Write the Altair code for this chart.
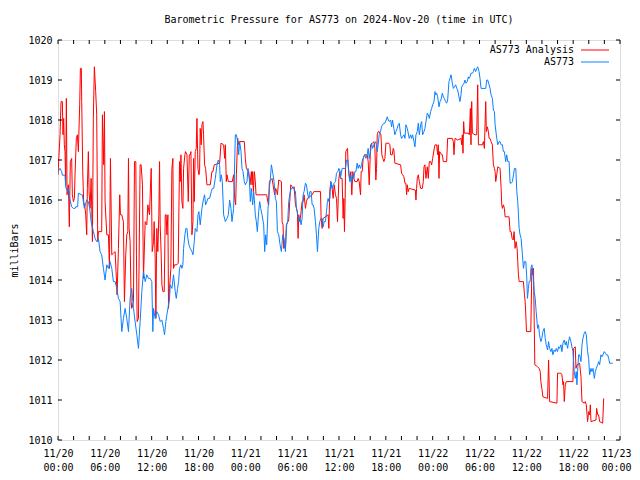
import json
import altair as alt
import pandas as pd

FONT = "DejaVu Sans Mono"
TITLE = "Barometric Pressure for AS773 on 2024-Nov-20 (time in UTC)"
Y_TITLE = "milliBars"
SERIES = ["AS773 Analysis", "AS773"]
COLORS = ["#ff0000", "#0a80ff"]

X_MAJOR_HOURS = [0, 6, 12, 18, 24, 30, 36, 42, 48, 54, 60, 66, 72]
X_TICK_DAYS = ["11/20", "11/20", "11/20", "11/20", "11/21", "11/21", "11/21",
               "11/21", "11/22", "11/22", "11/22", "11/22", "11/23"]
X_TICK_TIMES = ["00:00", "06:00", "12:00", "18:00", "00:00", "06:00", "12:00",
                "18:00", "00:00", "06:00", "12:00", "18:00", "00:00"]
X_MINOR_HOURS = [0, 2, 4, 6, 8, 10, 12, 14, 16, 18, 20, 22, 24, 26, 28, 30, 32, 34, 36,
                 38, 40, 42, 44, 46, 48, 50, 52, 54, 56, 58, 60, 62, 64, 66, 68, 70, 72]
Y_TICKS = [1010, 1011, 1012, 1013, 1014, 1015, 1016, 1017, 1018, 1019, 1020]

# "AS773 Analysis" (red): hours after 2024-11-20 00:00 UTC, and millibars
RED_HOURS = [
    0.00, 0.26, 0.39, 0.56, 0.64, 0.73, 0.81, 0.90, 0.98, 1.07, 1.16, 1.33, 1.45, 1.58, 1.75, 1.84, 1.97, 2.10, 2.18, 2.35, 2.48, 2.61, 2.78, 2.87, 2.99, 3.04, 3.17, 3.29, 3.47, 3.55, 3.68, 3.76, 3.89, 3.98, 4.11, 4.24, 4.41, 4.53, 4.66, 4.83, 4.96, 5.09, 5.18, 5.60, 5.69, 5.86, 5.95, 6.03, 6.25, 6.46, 6.59, 6.72, 6.89, 7.10, 7.32, 7.44, 7.57, 7.74, 7.91, 8.00, 8.17, 8.38, 8.51, 8.68, 8.81, 8.94, 9.03, 9.11, 9.24, 9.37, 9.45, 9.67, 9.80, 9.97, 10.05, 10.14, 10.31, 10.52, 10.65, 10.82, 10.95, 11.17, 11.38, 11.51, 11.72,
    11.81, 11.94, 12.07, 12.24, 12.32, 12.45, 12.54, 12.66, 12.79, 12.92, 13.01, 13.09, 13.22, 13.31, 13.44, 13.61, 13.74, 13.86, 13.95, 14.08, 14.16, 14.29, 14.46, 14.59, 14.72, 14.80, 14.93, 15.23, 15.40, 15.57, 15.66, 15.75, 15.87, 16.00, 16.09, 16.26, 16.34, 16.52, 16.69, 16.82, 16.94, 17.03, 17.16, 17.29, 17.37, 17.46, 17.58, 17.71, 17.80, 17.93, 18.05, 18.14, 18.22, 18.35, 18.44, 18.57, 18.65, 18.78, 18.91, 19.08, 19.51, 19.72, 19.85, 20.02, 20.71, 20.88, 21.22, 21.35, 21.44, 21.56, 21.65, 21.82, 22.33, 22.50, 22.63, 22.76, 22.85, 23.02, 23.15, 23.27, 23.87,
    24.00, 24.13, 24.26, 24.43, 24.60, 24.77, 24.86, 24.94, 25.03, 25.16, 25.28, 25.37, 26.74, 26.87, 26.99, 27.08, 27.42, 27.55, 27.76, 27.89, 28.02, 28.11, 28.28, 28.62, 28.71, 28.83, 28.92, 29.05, 29.13, 29.26, 29.56, 29.69, 29.82, 29.99, 30.12, 30.25, 30.42, 30.67, 30.76, 30.84, 30.97, 31.10, 31.27, 31.40, 31.53, 31.70, 31.83, 31.96, 32.56, 32.77, 33.63, 33.71, 33.84, 33.97, 34.61, 34.70, 34.82, 34.95, 35.12, 35.25, 35.38, 35.55, 35.68, 35.81, 35.98, 36.11,
    36.19, 36.40, 36.53, 36.62, 36.70, 36.79, 36.87, 37.09, 37.17, 37.30, 37.39, 37.52, 37.64, 37.77, 37.90, 38.03, 38.33, 38.46, 38.59, 38.67, 38.76, 38.84, 38.97, 39.10, 39.27, 39.61, 39.74, 39.87, 39.95, 40.04, 40.30, 40.47, 40.60, 40.72, 40.81, 40.90, 41.02, 41.15, 41.37, 41.49, 41.62, 41.75, 41.88, 42.01, 42.39, 42.52, 42.61, 42.82, 42.95, 43.03, 43.16, 43.89, 44.02, 44.15, 44.32, 44.45, 44.57, 44.66, 44.75, 44.87, 45.00, 45.77, 45.86, 45.94, 46.03, 46.16, 46.29, 46.46, 46.67, 46.80, 46.89, 47.01, 47.14, 47.31, 47.44, 47.57, 47.74, 47.87, 48.00, 48.17, 48.30,
    48.38, 48.51, 48.64, 48.72, 48.81, 48.89, 49.15, 49.24, 49.36, 49.79, 49.92, 50.52, 50.65, 50.73, 50.86, 51.20, 51.63, 51.72, 51.80, 51.89, 51.97, 52.06, 52.57, 52.70, 52.83, 52.91, 53.00, 53.09, 53.43, 53.64, 53.77, 53.86, 54.37, 54.50, 54.63, 54.71, 54.80, 54.88, 55.01, 55.14, 55.23, 55.35, 55.48, 55.65, 55.78, 55.91, 56.00, 56.08, 56.21, 56.34, 56.64, 56.77, 56.85, 56.94, 57.06, 57.19, 57.28, 57.79, 57.92, 58.05, 58.18, 58.31, 58.43, 58.56, 58.69, 58.82, 58.90, 58.99, 59.08, 59.63, 59.76, 59.85, 59.93, 60.02, 60.57,
    60.71, 60.79, 60.92, 61.01, 61.09, 61.44, 61.65, 61.78, 61.86, 61.99, 62.12, 62.72, 62.85, 62.98, 63.92, 64.00, 64.26, 64.43, 64.56, 64.69, 64.77, 64.86, 64.99, 65.11, 65.97, 66.06, 66.27, 66.36, 66.48, 66.83, 67.00, 67.13, 67.42, 67.55, 67.68, 67.85, 67.98, 68.11, 68.20, 68.28, 68.92, 69.01, 69.14, 69.26, 69.39, 69.78, 69.91,
]
RED_MBAR = [
    1016.63, 1017.63, 1018.46, 1018.46, 1017.63, 1018.04, 1017.38, 1017.21, 1016.38, 1018.54, 1016.13, 1016.38, 1015.33, 1016.96, 1017.04, 1016.13, 1015.96, 1016.04, 1016.63, 1017.54, 1017.63, 1017.21, 1018.38, 1019.29, 1019.29, 1018.46, 1016.71, 1015.96, 1015.79, 1015.63, 1015.13, 1016.29, 1017.21, 1016.21, 1015.79, 1016.54, 1014.96, 1018.04, 1019.33, 1018.71, 1018.13, 1014.96, 1015.21, 1015.21, 1018.13, 1016.88, 1018.21, 1015.96, 1015.13, 1015.13, 1014.29, 1017.04, 1014.63, 1014.67, 1014.71, 1014.21, 1013.63, 1014.79, 1016.13, 1015.63, 1015.63, 1015.46, 1013.46, 1014.63, 1015.13, 1015.21, 1017.04, 1015.29, 1014.96, 1013.46, 1013.29, 1013.46, 1016.96, 1016.96, 1014.63, 1012.96, 1013.04, 1016.88, 1016.88, 1016.38, 1014.04, 1015.46, 1015.38, 1015.88, 1015.63,
    1016.13, 1016.79, 1014.71, 1014.96, 1015.46, 1014.54, 1013.04, 1015.29, 1014.71, 1015.63, 1016.96, 1015.38, 1014.63, 1013.88, 1013.71, 1013.71, 1015.63, 1015.63, 1015.13, 1015.63, 1013.29, 1013.79, 1014.29, 1016.79, 1017.04, 1014.29, 1014.38, 1014.38, 1014.42, 1016.96, 1016.46, 1017.13, 1015.96, 1015.79, 1016.79, 1017.13, 1017.21, 1017.13, 1015.96, 1017.13, 1017.13, 1017.21, 1015.13, 1015.46, 1017.04, 1015.96, 1017.21, 1017.29, 1018.04, 1016.79, 1016.63, 1016.71, 1017.79, 1017.38, 1017.88, 1017.96, 1017.63, 1016.88, 1016.79, 1016.38, 1016.38, 1016.71, 1016.71, 1016.88, 1016.92, 1017.42, 1017.38, 1017.04, 1017.38, 1016.46, 1016.63, 1016.46, 1016.46, 1016.63, 1016.04, 1015.88, 1016.63, 1017.54, 1017.38, 1017.46, 1017.46,
    1017.04, 1016.79, 1016.75, 1016.71, 1016.38, 1016.71, 1016.38, 1016.71, 1016.21, 1016.71, 1016.46, 1016.13, 1016.13, 1015.96, 1015.88, 1016.46, 1016.54, 1016.38, 1016.13, 1016.29, 1016.21, 1016.13, 1016.50, 1016.46, 1015.46, 1015.38, 1014.79, 1014.88, 1014.79, 1015.38, 1015.50, 1015.96, 1016.38, 1016.33, 1016.29, 1016.33, 1015.88, 1015.71, 1015.04, 1015.63, 1015.46, 1015.63, 1015.96, 1015.96, 1016.13, 1015.79, 1015.96, 1016.04, 1016.13, 1016.21, 1016.21, 1015.54, 1015.29, 1015.54, 1015.63, 1015.29, 1016.21, 1016.46, 1016.29, 1016.04, 1016.38, 1016.13, 1016.04, 1015.46, 1016.54, 1016.71,
    1016.54, 1016.54, 1015.54, 1016.04, 1015.21, 1016.04, 1017.21, 1017.29, 1016.88, 1016.63, 1016.54, 1016.71, 1016.13, 1016.71, 1016.54, 1016.46, 1016.46, 1016.54, 1016.46, 1016.29, 1016.13, 1016.71, 1016.71, 1017.04, 1017.13, 1017.13, 1016.96, 1016.38, 1016.79, 1017.38, 1017.42, 1017.46, 1017.29, 1016.50, 1016.79, 1017.63, 1017.71, 1017.71, 1017.63, 1017.13, 1017.04, 1016.96, 1017.04, 1017.42, 1017.42, 1017.38, 1017.13, 1017.13, 1017.29, 1017.25, 1016.92, 1016.88, 1016.67, 1016.63, 1016.58, 1016.42, 1016.42, 1016.13, 1016.38, 1016.21, 1016.29, 1016.25, 1016.00, 1016.29, 1016.54, 1016.63, 1016.46, 1016.29, 1016.29, 1016.46, 1016.83, 1016.88, 1016.54, 1016.83, 1016.54, 1016.96, 1016.96, 1016.88, 1017.04, 1017.25, 1017.38,
    1017.38, 1017.38, 1017.13, 1017.38, 1016.54, 1017.21, 1017.13, 1017.13, 1016.96, 1016.96, 1017.54, 1017.54, 1017.46, 1017.13, 1017.54, 1017.50, 1017.54, 1017.38, 1017.63, 1017.17, 1017.96, 1017.67, 1017.67, 1017.63, 1018.29, 1017.38, 1018.46, 1017.67, 1017.63, 1017.63, 1018.88, 1017.38, 1017.38, 1017.46, 1017.29, 1017.88, 1018.46, 1017.71, 1017.83, 1017.71, 1017.54, 1017.54, 1017.46, 1017.38, 1016.88, 1016.79, 1016.71, 1016.46, 1016.63, 1016.83, 1016.79, 1016.29, 1015.88, 1015.79, 1015.88, 1015.79, 1015.58, 1015.58, 1015.21, 1015.21, 1015.04, 1015.00, 1015.21, 1014.79, 1014.96, 1014.79, 1014.46, 1014.13, 1013.96, 1013.96, 1013.63, 1013.46, 1013.13, 1012.71, 1012.71,
    1014.29, 1014.13, 1014.29, 1012.96, 1011.88, 1011.83, 1011.79, 1011.71, 1011.46, 1011.29, 1011.08, 1011.04, 1012.00, 1010.96, 1010.92, 1011.67, 1011.67, 1011.67, 1011.63, 1011.38, 1011.46, 1010.96, 1011.38, 1011.46, 1011.46, 1012.29, 1012.33, 1011.79, 1011.88, 1011.92, 1011.58, 1010.96, 1010.92, 1010.96, 1010.88, 1010.46, 1010.71, 1010.63, 1010.88, 1010.46, 1010.50, 1010.79, 1010.63, 1010.63, 1010.46, 1010.42, 1011.04,
]

# "AS773" (blue): hours after 2024-11-20 00:00 UTC, and millibars
BLUE_HOURS = [
    0.00, 0.26, 0.47, 0.56, 0.90, 0.98, 1.24, 1.33, 1.50, 1.75, 1.97, 2.18, 2.27, 2.52, 2.61, 3.04, 3.12, 3.38, 3.68, 3.89, 4.06, 4.24, 4.53, 4.75, 4.96, 5.18, 5.39, 5.60, 5.82, 6.03, 6.25, 6.46, 6.67, 6.89, 7.10, 7.32, 7.53, 7.74, 7.96, 8.17, 8.38, 8.60, 8.81, 9.03, 9.24, 9.45, 9.67, 9.88, 10.10, 10.31, 10.52, 10.74, 10.95, 11.17, 11.38, 11.59,
    11.81, 12.02, 12.15, 12.24, 12.45, 12.66, 12.88, 13.09, 13.30, 13.52, 13.65, 13.82, 13.95, 14.16, 14.29, 14.38, 14.59, 14.80, 15.02, 15.15, 15.32, 15.45, 15.57, 15.75, 15.87, 16.00, 16.09, 16.26, 16.39, 16.52, 16.64, 16.77, 16.94, 17.16, 17.29, 17.46, 17.58, 17.80, 17.93, 18.05, 18.22, 18.44, 18.65, 18.78, 18.91, 19.08, 19.21, 19.42, 19.64, 19.77, 19.94, 20.15, 20.37, 20.54, 20.71, 20.79, 20.92, 21.05, 21.22, 21.44, 21.65, 21.82, 21.99, 22.16, 22.29, 22.50, 22.72, 22.85, 23.02, 23.15, 23.27, 23.45, 23.57, 23.70, 23.87,
    24.00, 24.21, 24.34, 24.51, 24.64, 24.77, 24.94, 25.07, 25.20, 25.28, 25.41, 25.54, 25.71, 25.84, 25.97, 26.14, 26.35, 26.48, 26.61, 26.74, 26.91, 27.08, 27.21, 27.34, 27.42, 27.55, 27.68, 27.85, 27.98, 28.11, 28.28, 28.45, 28.62, 28.79, 28.96, 29.13, 29.30, 29.43, 29.56, 29.69, 29.86, 29.99, 30.12, 30.29, 30.42, 30.55, 30.72, 30.84, 30.97, 31.14, 31.27, 31.40, 31.53, 31.70, 31.83, 32.00, 32.13, 32.26, 32.43, 32.56, 32.68, 32.81, 32.98, 33.11, 33.24, 33.41, 33.54, 33.67, 33.84, 33.97, 34.10, 34.27, 34.40, 34.52, 34.61, 34.70, 34.82, 34.95, 35.12, 35.25, 35.38, 35.55, 35.68, 35.85, 35.98, 36.11,
    36.19, 36.40, 36.83, 36.96, 37.13, 37.26, 37.39, 37.47, 37.60, 37.73, 37.90, 38.03, 38.16, 38.33, 38.46, 38.59, 38.76, 38.89, 39.01, 39.18, 39.31, 39.44, 39.61, 39.74, 39.87, 40.04, 40.17, 40.30, 40.47, 40.60, 40.72, 40.90, 41.02, 41.15, 41.32, 41.45, 41.58, 41.75, 41.88, 42.05, 42.18, 42.31, 42.44, 42.61, 42.74, 42.86, 42.95, 43.03, 43.16, 43.29, 43.46, 43.59, 43.72, 43.89, 44.02, 44.15, 44.32, 44.45, 44.57, 44.75, 44.87, 45.00, 45.17, 45.30, 45.43, 45.60, 45.73, 45.86, 46.03, 46.16, 46.29, 46.46, 46.59, 46.71, 46.89, 47.01, 47.14, 47.31, 47.44, 47.57, 47.74, 47.87, 48.00, 48.17, 48.30,
    48.38, 48.51, 48.64, 48.81, 48.94, 49.06, 49.24, 49.36, 49.49, 49.66, 49.79, 49.92, 50.09, 50.22, 50.35, 50.52, 50.65, 50.78, 50.95, 51.08, 51.20, 51.37, 51.50, 51.63, 51.72, 51.89, 52.02, 52.14, 52.27, 52.44, 52.57, 52.66, 52.79, 52.91, 53.09, 53.21, 53.34, 53.51, 53.64, 53.77, 53.94, 54.07, 54.20, 54.80, 54.93, 55.05, 55.23, 55.35, 55.48, 55.65, 55.78, 55.91, 56.00, 56.08, 56.21, 56.34, 56.51, 56.64, 56.77, 56.94, 57.06, 57.19, 57.36, 57.49, 57.62, 57.79, 57.92, 58.05, 58.22, 58.35, 58.48, 58.65, 58.78, 58.90, 58.99, 59.08, 59.20, 59.33, 59.50, 59.63, 59.76, 59.93, 60.06, 60.14, 60.27, 60.36, 60.49,
    60.58, 60.71, 60.84, 61.01, 61.14, 61.26, 61.44, 61.56, 61.69, 61.86, 61.99, 62.12, 62.29, 62.42, 62.55, 62.72, 62.85, 62.98, 63.15, 63.28, 63.40, 63.57, 63.70, 63.83, 64.00, 64.13, 64.26, 64.43, 64.56, 64.69, 64.86, 64.99, 65.11, 65.29, 65.41, 65.54, 65.71, 65.84, 65.97, 66.14, 66.27, 66.40, 66.48, 66.57, 66.70, 66.83, 67.00, 67.13, 67.25, 67.42, 67.55, 67.68, 67.85, 67.98, 68.11, 68.28, 68.41, 68.54, 68.71, 68.84, 68.96, 69.14, 69.26, 69.39, 69.56, 69.69, 69.82, 69.99, 70.12, 70.25, 70.42, 70.55, 70.68, 70.85, 71.06,
]
BLUE_MBAR = [
    1016.71, 1016.79, 1016.71, 1016.62, 1016.62, 1016.33, 1016.21, 1016.29, 1016.04, 1015.83, 1015.79, 1015.79, 1015.83, 1015.83, 1016.17, 1016.13, 1016.13, 1015.79, 1016.00, 1015.96, 1015.79, 1015.46, 1015.21, 1015.04, 1014.96, 1015.04, 1014.71, 1014.63, 1014.29, 1014.00, 1014.38, 1014.29, 1014.46, 1014.29, 1013.96, 1013.96, 1013.79, 1013.54, 1013.46, 1012.71, 1013.04, 1013.29, 1013.04, 1012.71, 1013.54, 1013.79, 1013.29, 1012.96, 1012.63, 1012.29, 1012.96, 1013.71, 1014.21, 1013.96, 1014.13, 1014.04,
    1014.04, 1013.96, 1012.71, 1013.29, 1013.04, 1013.21, 1013.13, 1012.96, 1013.00, 1012.79, 1012.63, 1012.96, 1013.13, 1013.38, 1013.54, 1013.88, 1013.79, 1014.13, 1013.71, 1013.54, 1013.79, 1013.96, 1014.29, 1014.38, 1014.29, 1014.38, 1014.79, 1015.13, 1015.29, 1015.29, 1015.04, 1014.88, 1014.79, 1014.71, 1014.63, 1014.96, 1015.29, 1015.21, 1015.63, 1015.71, 1015.38, 1015.79, 1016.04, 1016.13, 1015.88, 1015.96, 1016.04, 1016.04, 1016.21, 1016.29, 1016.29, 1016.54, 1016.88, 1017.00, 1016.88, 1016.46, 1016.63, 1016.46, 1015.63, 1015.46, 1015.54, 1015.63, 1016.00, 1015.79, 1015.46, 1015.79, 1017.63, 1017.63, 1017.46, 1017.13, 1017.46, 1017.21, 1016.79, 1016.71, 1016.46,
    1016.38, 1016.46, 1016.79, 1016.54, 1015.96, 1016.29, 1015.88, 1016.21, 1015.88, 1015.63, 1015.46, 1015.21, 1015.71, 1015.96, 1015.79, 1015.63, 1015.38, 1014.71, 1015.13, 1014.88, 1015.79, 1016.29, 1016.54, 1016.88, 1016.79, 1016.63, 1016.46, 1016.04, 1015.96, 1015.21, 1015.13, 1014.88, 1014.71, 1015.13, 1015.04, 1014.71, 1015.38, 1015.46, 1015.96, 1016.13, 1016.29, 1016.29, 1016.33, 1016.25, 1016.21, 1015.79, 1015.63, 1015.46, 1015.54, 1015.38, 1015.54, 1016.13, 1016.21, 1016.42, 1016.38, 1016.13, 1016.04, 1016.21, 1016.21, 1015.88, 1015.88, 1015.79, 1015.46, 1015.13, 1014.71, 1015.29, 1015.46, 1015.54, 1015.54, 1015.33, 1015.46, 1015.46, 1015.71, 1015.96, 1016.04, 1015.96, 1016.04, 1016.46, 1016.29, 1016.38, 1016.42, 1016.46, 1016.67, 1016.71, 1016.79, 1016.75,
    1016.54, 1016.79, 1016.79, 1017.00, 1017.00, 1016.63, 1016.46, 1016.63, 1016.42, 1016.63, 1016.54, 1016.71, 1016.71, 1016.92, 1016.79, 1016.88, 1016.79, 1016.88, 1017.00, 1017.08, 1017.13, 1017.04, 1017.13, 1017.29, 1017.04, 1017.21, 1017.42, 1017.29, 1017.38, 1017.42, 1017.46, 1017.21, 1017.38, 1017.63, 1017.71, 1017.83, 1017.88, 1017.92, 1017.92, 1018.00, 1018.08, 1018.00, 1017.96, 1018.00, 1017.83, 1018.00, 1017.88, 1017.79, 1017.63, 1017.71, 1017.79, 1017.88, 1017.92, 1017.63, 1017.54, 1017.58, 1017.63, 1017.54, 1017.88, 1017.79, 1017.67, 1017.54, 1017.63, 1017.54, 1017.63, 1017.46, 1017.33, 1017.63, 1017.71, 1017.92, 1017.63, 1017.88, 1017.96, 1017.63, 1017.71, 1017.79, 1017.96, 1018.17, 1018.13, 1018.04, 1018.21, 1018.29, 1018.38, 1018.46, 1018.71,
    1018.63, 1018.67, 1018.58, 1018.33, 1018.46, 1018.50, 1018.67, 1018.58, 1018.54, 1018.46, 1018.42, 1018.50, 1018.96, 1019.04, 1019.13, 1018.92, 1018.79, 1018.83, 1018.88, 1018.79, 1018.75, 1018.58, 1018.46, 1018.63, 1018.83, 1018.88, 1018.92, 1019.00, 1018.92, 1018.96, 1019.08, 1019.04, 1019.08, 1019.17, 1019.17, 1019.21, 1019.29, 1019.21, 1019.29, 1019.33, 1019.21, 1019.04, 1018.79, 1018.79, 1019.00, 1019.00, 1018.88, 1018.79, 1018.63, 1018.54, 1018.25, 1018.21, 1017.88, 1017.75, 1017.54, 1017.38, 1017.46, 1017.46, 1017.38, 1017.38, 1017.21, 1017.21, 1016.96, 1017.13, 1016.96, 1016.96, 1016.42, 1016.42, 1016.46, 1016.63, 1016.79, 1016.79, 1016.21, 1015.96, 1015.63, 1015.29, 1015.13, 1015.04, 1014.63, 1014.29, 1014.46, 1014.46, 1014.04, 1013.54, 1013.79, 1013.96, 1013.96,
    1014.29, 1014.38, 1014.21, 1013.71, 1013.54, 1013.21, 1012.79, 1012.88, 1012.63, 1012.46, 1012.54, 1012.71, 1012.79, 1012.54, 1012.38, 1012.25, 1012.46, 1012.29, 1012.21, 1012.29, 1012.13, 1012.25, 1012.21, 1012.29, 1012.21, 1012.33, 1012.29, 1012.38, 1012.21, 1012.42, 1012.50, 1012.38, 1012.46, 1012.29, 1012.46, 1012.58, 1012.46, 1012.33, 1012.21, 1011.71, 1011.54, 1011.71, 1011.38, 1011.71, 1012.13, 1012.13, 1011.96, 1012.38, 1012.54, 1012.67, 1012.71, 1012.63, 1012.21, 1012.04, 1011.63, 1011.79, 1011.71, 1011.79, 1011.54, 1011.71, 1011.79, 1011.88, 1011.96, 1011.88, 1012.13, 1012.08, 1012.13, 1012.21, 1012.17, 1012.13, 1012.13, 1012.04, 1011.92, 1011.92, 1011.92,
]

W, H = 562, 400

red_df = pd.DataFrame(list(zip(RED_HOURS, RED_MBAR)), columns=["t", "p"])
blue_df = pd.DataFrame(list(zip(BLUE_HOURS, BLUE_MBAR)), columns=["t", "p"])

days_js = json.dumps(X_TICK_DAYS)
times_js = json.dumps(X_TICK_TIMES)
major_js = json.dumps(X_MAJOR_HOURS)
label_expr = (f"[{days_js}[indexof({major_js}, datum.value)], "
              f"{times_js}[indexof({major_js}, datum.value)]]")
last_hour = X_MAJOR_HOURS[-1]

x_enc = alt.X(
    "t:Q",
    scale=alt.Scale(domain=[0, 72], nice=False, zero=False),
    axis=alt.Axis(values=X_MAJOR_HOURS, labelExpr=label_expr, ticks=False,
                  domain=False, grid=False, title=None, labelFont=FONT,
                  labelFontSize=10, labelColor="black", labelPadding=8,
                  labelLineHeight=14, labelBaseline="top", labelOverlap=False,
                  labelFlush=False, labelBound=False,
                  labelOffset={"condition": {"test": f"datum.value == {last_hour}",
                                             "value": -4},
                               "value": 0}),
)
y_enc = alt.Y(
    "p:Q",
    scale=alt.Scale(domain=[1010, 1020], nice=False, zero=False),
    axis=alt.Axis(values=Y_TICKS, format="d", ticks=False, domain=False,
                  grid=False, title=Y_TITLE, labelFont=FONT, labelFontSize=10,
                  labelColor="black", labelPadding=6, labelOverlap=False,
                  labelFlush=False, titleFont=FONT, titleFontSize=10,
                  titleFontWeight="normal", titleColor="black", titleX=-44,
                  titleY=210, titleAngle=270, titleAlign="center",
                  titleBaseline="middle"),
)

xt = pd.DataFrame({"t": X_MINOR_HOURS})
yt = pd.DataFrame({"p": Y_TICKS})

tick_bottom = alt.Chart(xt).mark_rule(color="black", strokeWidth=1).encode(
    x=x_enc, y=alt.value(H), y2=alt.value(H - 4))
tick_top = alt.Chart(xt).mark_rule(color="black", strokeWidth=1).encode(
    x=x_enc, y=alt.value(0), y2=alt.value(4))
tick_left = alt.Chart(yt).mark_rule(color="black", strokeWidth=1).encode(
    y=y_enc, x=alt.value(0), x2=alt.value(4))
tick_right = alt.Chart(yt).mark_rule(color="black", strokeWidth=1).encode(
    y=y_enc, x=alt.value(W), x2=alt.value(W - 4))

red_line = alt.Chart(red_df).mark_line(color=COLORS[0], strokeWidth=1, clip=True).encode(
    x=x_enc, y=y_enc)
blue_line = alt.Chart(blue_df).mark_line(color=COLORS[1], strokeWidth=1, clip=True).encode(
    x=x_enc, y=y_enc)

leg_text = []
leg_rule = []
for i, (name, col) in enumerate(zip(SERIES, COLORS)):
    ypos = 10 + 12 * i
    leg_text.append(
        alt.Chart(pd.DataFrame({"name": [name]})).mark_text(
            align="right", baseline="middle", font=FONT, fontSize=10, color="black"
        ).encode(text="name:N", x=alt.value(516), y=alt.value(ypos))
    )
    leg_rule.append(
        alt.Chart(pd.DataFrame({"name": [name]})).mark_rule(color=col, strokeWidth=1).encode(
            x=alt.value(523), x2=alt.value(551), y=alt.value(ypos))
    )

chart = alt.layer(
    red_line, blue_line, tick_bottom, tick_top, tick_left, tick_right,
    *leg_text, *leg_rule,
).properties(
    width=W,
    height=H,
    title=alt.TitleParams(TITLE, font=FONT, fontSize=10, fontWeight="normal",
                          color="black", anchor="middle", frame="group", offset=10),
    autosize=alt.AutoSizeParams(type="none"),
    padding={"left": 50, "top": 32, "right": 12, "bottom": 32},
).configure_view(
    stroke="black", strokeWidth=1
).configure(background="white")

chart.save("out.html", embed_options={"renderer": "svg", "actions": False})
